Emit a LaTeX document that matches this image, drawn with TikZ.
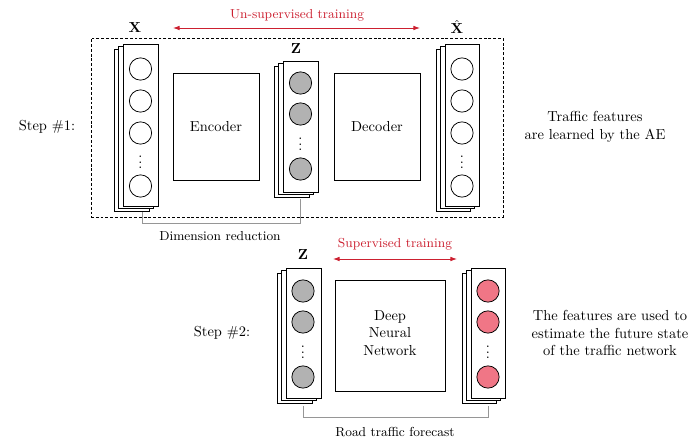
\documentclass[tikz,border=0pt]{standalone}
\usetikzlibrary{arrows.meta,fit}

\definecolor{trainred}{RGB}{204,32,48}
\definecolor{unitgray}{RGB}{178,178,178}
\definecolor{unitpink}{RGB}{240,118,134}
\definecolor{bracketgray}{RGB}{150,150,150}

\tikzset{
  layer/.style={draw, fill=white, inner sep=0pt, line width=0.5pt},
  blockbox/.style={draw, inner sep=0pt, line width=0.5pt, align=center},
  unit/.style={circle, draw, line width=0.5pt, minimum size=15.4pt, inner sep=0pt},
  hidden/.style={unit, fill=unitgray},
  output/.style={unit, fill=unitpink},
  plain/.style={unit, fill=white},
  vlabel/.style={font=\bfseries},
  caption/.style={align=center},
  bracket/.style={draw=bracketgray, line width=0.5pt},
  trainarrow/.style={trainred, line width=0.6pt, {Latex[length=4.5pt,width=3.2pt]}-{Latex[length=4.5pt,width=3.2pt]}},
  trainlabel/.style={text=trainred, font=\small},
}

% three stacked layer sheets; #1 name, #2 left, #3 top, #4 right, #5 bottom
\newcommand\layerstack[5]{%
  \node[layer, fit={(#2-9,#3+5) (#4-9,#5+5)}] (#1-back) {};
  \node[layer, fit={(#2-4.5,#3+2.5) (#4-4.5,#5+2.5)}] (#1-mid) {};
  \node[layer, fit={(#2,#3) (#4,#5)}] (#1) {};
}

\begin{document}
\begin{tikzpicture}[x=0.69pt, y=-0.69pt]
\useasboundingbox (0,0) rectangle (693,442);

% ---------------- Step 1: autoencoder ----------------
\node[draw, dashed, dash pattern=on 2pt off 1.3pt, line width=0.5pt, inner sep=0pt,
      fit={(91,38) (503,217)}] (ae) {};

\layerstack{xin}{123}{44}{158}{206}
\node[plain]  (x1) at (140.5,69)  {};
\node[plain]  (x2) at (140.5,101) {};
\node[plain]  (x3) at (140.5,133) {};
\node         (xd) at (140.5,158) {$\vdots$};
\node[plain]  (x4) at (140.5,186) {};
\node[vlabel] (xlab) at (135,28) {X};

\node[blockbox, fit={(173,73) (259,180)}] (enc) {};
\node (enctext) at (216,127) {Encoder};

\layerstack{zae}{283}{61}{318}{192}
\node[hidden] (z1) at (300.5,83)  {};
\node[hidden] (z2) at (300.5,114) {};
\node         (zd) at (300.5,140) {$\vdots$};
\node[hidden] (z3) at (300.5,169) {};
\node[vlabel] (zlab) at (296,49) {Z};

\node[blockbox, fit={(334,73) (420,180)}] (dec) {};
\node (dectext) at (377,127) {Decoder};

\layerstack{xout}{445}{44}{479}{206}
\node[plain]  (y1) at (462,69)  {};
\node[plain]  (y2) at (462,101) {};
\node[plain]  (y3) at (462,133) {};
\node         (yd) at (462,158) {$\vdots$};
\node[plain]  (y4) at (462,186) {};
\node[vlabel] (ylab) at (457,27) {$\hat{\mathbf{X}}$};

\coordinate (ua) at (173,28);
\coordinate (ub) at (420,28);
\draw[trainarrow] (ua) -- (ub);
\node[trainlabel] (ulab) at (297,15) {Un-supervised training};

\coordinate (dr1) at (142,212);
\coordinate (dr2) at (300.5,199);
\draw[bracket] (dr1) -- (142,223) -- (300.5,223) -- (dr2);
\node[font=\small] (drlab) at (220,236) {Dimension reduction};

\node (step1) at (47,127) {Step \#1:};
\node[caption] (note1) at (595,127) {Traffic features\\are learned by the AE};

% ---------------- Step 2: supervised forecasting ----------------
\layerstack{zin}{286}{268}{321}{398}
\node[hidden] (w1) at (303,291) {};
\node[hidden] (w2) at (303,322) {};
\node         (wd) at (303,348) {$\vdots$};
\node[hidden] (w3) at (303,377) {};
\node[vlabel] (wlab) at (303,255) {Z};

\node[blockbox, fit={(335,280) (445,391)}] (dnn) {};
\node[caption] (dnntext) at (390,333) {Deep\\Neural\\Network};

\layerstack{fc}{471}{268}{505}{398}
\node[output] (f1) at (488,291) {};
\node[output] (f2) at (488,322) {};
\node         (fd) at (488,348) {$\vdots$};
\node[output] (f3) at (488,377) {};

\coordinate (sa) at (333,259);
\coordinate (sb) at (457,259);
\draw[trainarrow] (sa) -- (sb);
\node[trainlabel] (slab) at (395,244) {Supervised training};

\coordinate (rf1) at (303,406);
\coordinate (rf2) at (488,406);
\draw[bracket] (rf1) -- (303,417) -- (488,417) -- (rf2);
\node[font=\small] (rflab) at (395,432) {Road traffic forecast};

\node (step2) at (222,333) {Step \#2:};
\node[caption] (note2) at (610,333) {The features are used to\\estimate the future state\\of the traffic network};
\end{tikzpicture}
\end{document}
